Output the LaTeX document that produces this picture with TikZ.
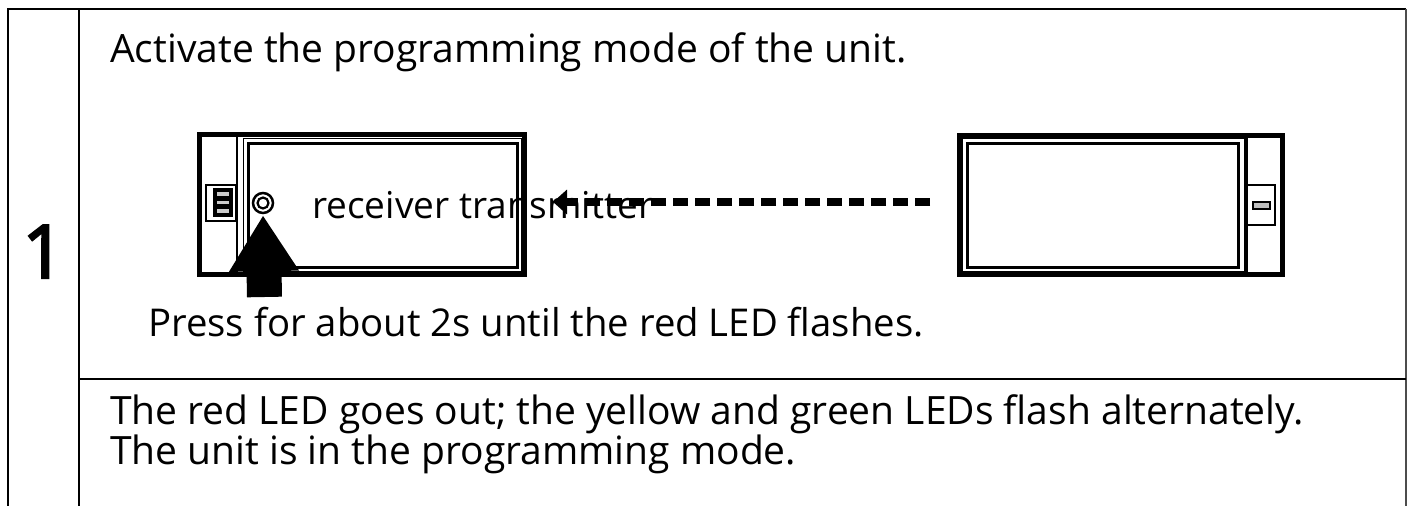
\documentclass[tikz,border=0pt]{standalone}
\usepackage{fontspec}
\setmainfont{Open Sans}
\newfontfamily\numfont[FakeBold=3]{Open Sans}
\usetikzlibrary{arrows.meta}
\begin{document}
\begin{tikzpicture}[x=1pt,y=-1pt,
  grid/.style={line width=2.6pt,black},
  txt/.style={anchor=base west,inner sep=0pt,font=\fontsize{39}{32.5}\selectfont},
  devbox/.style={draw,line width=5pt,inner sep=0pt,minimum width=#1},
  screenout/.style={draw,line width=1.8pt},
  screenin/.style={draw,line width=3pt},
  sideline/.style={line width=2.2pt},
  switchbox/.style={draw,line width=2.2pt,fill=white},
  dashedarrow/.style={line width=8pt,dash pattern=on 15pt off 7pt,-{Triangle[length=14pt,width=24pt]}},
  bigarrow/.style={line width=35pt,-{Triangle[length=56pt,width=66pt]}}
]
\useasboundingbox (0,0) rectangle (1409,506);
% table
\draw[grid] (8,506) -- (8,9) -- (1406,9);
\draw[line width=1.6pt,black!70] (1406,9) -- (1406,506);
\draw[grid] (79,9) -- (79,506);
\draw[grid] (79,379) -- (1406,379);
\node[anchor=base,inner sep=0pt,font=\numfont\fontsize{74}{80}\selectfont] (num) at (43.5,278) {1};
\node[txt] (t1) at (110,62) {Activate the programming mode of the unit.};
\node[txt,font=\fontsize{38.3}{40}\selectfont] (t3) at (148,336) {Press for about 2s until the red LED flashes.};
\node[txt,anchor=north west,align=left] (t4) at (110,394)
  {The red LED goes out; the yellow and green LEDs flash alternately.\\The unit is in the programming mode.};
% left device (receiver)
\node[devbox=325pt,minimum height=140pt] (ldev) at (362,204.5) {};
\draw[sideline] (237,134.5) -- (237,274.5);
\draw[screenout] (243.5,138.5) rectangle (522,272);
\draw[screenin] (248.5,143.5) rectangle (517.5,267);
\node[switchbox,minimum width=30pt,minimum height=36pt] (lsw) at (221,203) {};
\draw[line width=2pt,fill=black] (213.5,188.5) rectangle (231.5,216);
\foreach \yy in {192,200.5,209}
  \fill[black!20] (216.5,\yy) rectangle (228.5,\yy+3.5);
\node[draw,circle,line width=2.5pt,minimum size=20pt,inner sep=0pt,fill=white] (led) at (263,203) {};
\draw[line width=2.2pt] (led.center) circle (5.5pt);
% right device (transmitter)
\node[devbox=323pt,minimum height=139pt] (rdev) at (1121,205) {};
\draw[sideline] (1246.5,135.5) -- (1246.5,274.5);
\draw[screenout] (962.5,138.5) rectangle (1245,272);
\draw[screenin] (967.5,143.5) rectangle (1238.5,267);
\node[switchbox,minimum width=28pt,minimum height=40pt] (rsw) at (1261,205) {};
\draw[line width=2pt,fill=black!25] (1252.5,202) rectangle (1269.5,208.5);
% labels and arrows
\node[txt,font=\fontsize{37}{40}\selectfont] (t2) at (312,218) {receiver transmitter};
\coordinate (tip) at (553,202);
\draw[dashedarrow,shorten <=27pt] (rdev.west |- tip) -- (tip);
\coordinate (pressbase) at (264.5,297);
\draw[bigarrow,shorten >=1pt] (pressbase) -- (led.south);
\end{tikzpicture}
\end{document}
